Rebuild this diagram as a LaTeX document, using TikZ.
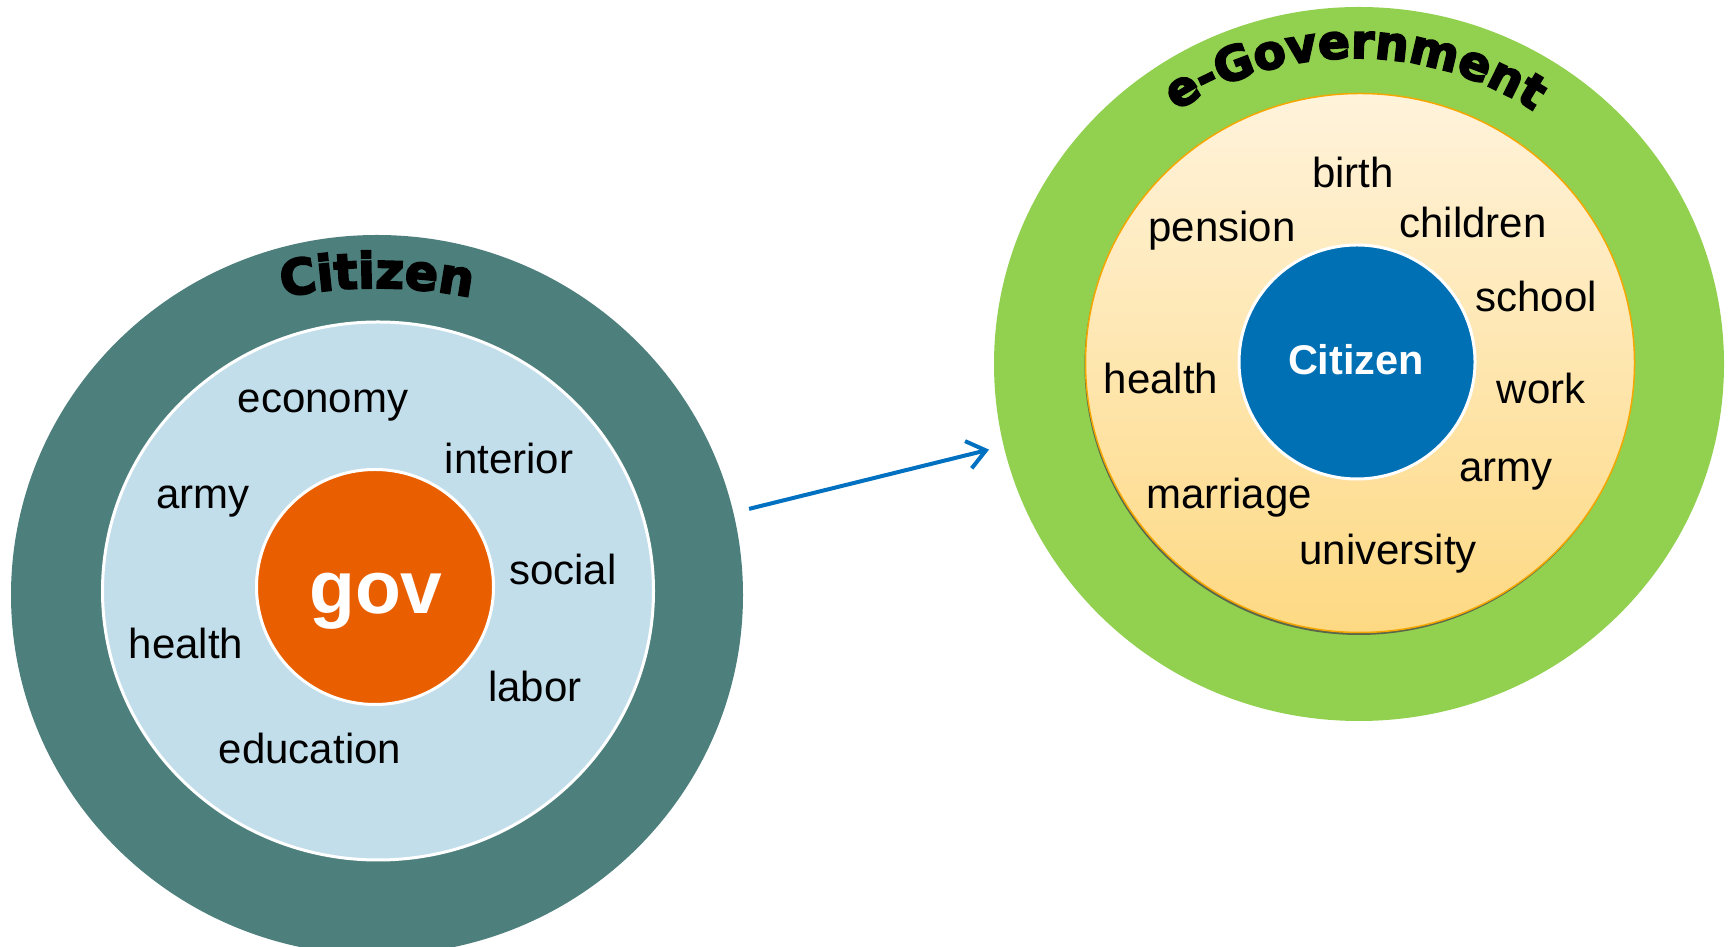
\documentclass[tikz,border=0pt]{standalone}
\usepackage{fontspec}
\setmainfont{Liberation Sans}
\newfontfamily\heavyfont{DejaVu Sans}[BoldFeatures={FakeBold=4}]
\usetikzlibrary{shapes.geometric,arrows.meta,decorations.text,shadows}
\definecolor{citizenteal}{HTML}{4D7F7C}
\definecolor{govlight}{HTML}{C2DEEB}
\definecolor{govorange}{HTML}{E95F00}
\definecolor{egreen}{HTML}{92D050}
\definecolor{creamtop}{HTML}{FFF3DB}
\definecolor{creambottom}{HTML}{FDD983}
\definecolor{creamedge}{HTML}{F4A700}
\definecolor{citizenblue}{HTML}{0070B4}
\definecolor{arrowblue}{HTML}{0070C0}
\newcommand\citizentitle{\heavyfont\bfseries\fontsize{49}{58}\selectfont}
\newcommand\egovtitle{\heavyfont\bfseries\fontsize{47}{56}\selectfont}
\begin{document}
\begin{tikzpicture}[x=1pt, y=1pt,
    ring/.style={ellipse, inner sep=0pt},
    word/.style={font=\fontsize{42}{50}\selectfont, anchor=base, inner sep=0pt},
    core/.style={font=\bfseries\fontsize{#1}{#1}\selectfont, text=white, anchor=base, inner sep=0pt},
    flow/.style={draw=arrowblue, line width=4pt, -{Straight Barb[length=18pt, width=28pt]}, shorten <=16pt, shorten >=15pt}]
    \useasboundingbox (0,0) rectangle (1729,947);

    \node (lefto) [ring, fill=citizenteal, minimum width=732pt, minimum height=720pt] at (377,352) {};
    \node (lefti) [ring, fill=govlight, draw=white, line width=3pt, minimum width=551pt, minimum height=538pt] at (378,356) {};
    \node (govc) [ring, fill=govorange, draw=white, line width=3pt, minimum width=237pt, minimum height=235pt] at (375,360) {};
    \node (gov) [core=75] at (376,333) {gov};

    \node (economy) [word] at (323,534) {economy};
    \node (interior) [word] at (509,473) {interior};
    \node (armyl) [word] at (203,438) {army};
    \node (social) [word] at (563,362) {social};
    \node (healthl) [word] at (186,288) {health};
    \node (labor) [word] at (535,245) {labor};
    \node (education) [word] at (310,183) {education};

    \node (righto) [ring, fill=egreen, minimum width=730pt, minimum height=714pt] at (1359,583) {};
    \node (righti) [ring, top color=creamtop, bottom color=creambottom, draw=creamedge, line width=1.5pt,
        drop shadow={shadow xshift=-1pt, shadow yshift=-2.5pt, fill=black!70, opacity=0.8},
        minimum width=549pt, minimum height=539pt] at (1360,584) {};
    \node (citc) [ring, fill=citizenblue, draw=white, line width=3pt, minimum width=236pt, minimum height=234pt] at (1357,585) {};
    \node (citizen) [core=41.5] at (1356,572) {Citizen};

    \node (birth) [word] at (1353,759) {birth};
    \node (pension) [word] at (1222,705) {pension};
    \node (children) [word] at (1473,709) {children};
    \node (school) [word] at (1536,635) {school};
    \node (healthr) [word] at (1161,553) {health};
    \node (work) [word] at (1541,543) {work};
    \node (armyr) [word] at (1506,465) {army};
    \node (marriage) [word] at (1229,438) {marriage};
    \node (university) [word] at (1388,382) {university};

    \path [decorate, decoration={text along path, text align=center, text={|\citizentitle|Citizen}}]
        ([shift={(101:480)}]377,179) arc (101:79:480);
    \path [decorate, decoration={text along path, text align=center, text={|\egovtitle|e-Government}}]
        ([shift={(124:327)}]1355,562) arc (124:56:327);

    \draw [flow] (lefto.13) -- (righto.193);
\end{tikzpicture}
\end{document}
